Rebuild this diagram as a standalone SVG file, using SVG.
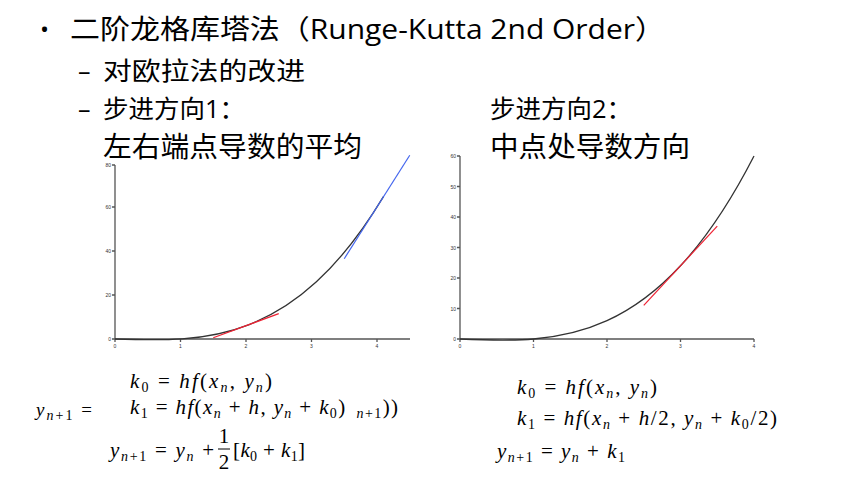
<svg xmlns="http://www.w3.org/2000/svg" width="858" height="478" viewBox="0 0 858 478">
<style>
.t{font-family:"Open Sans","Noto Sans CJK SC",sans-serif;fill:#000}
.m{font-family:"Liberation Serif",serif;font-size:21px;fill:#000}
.i{font-style:italic}
.s{font-size:14px}
.ax{stroke:#555;stroke-width:1.3;fill:none}
.tk{font-family:"Liberation Sans",sans-serif;font-size:5px;fill:#333}
.cv{stroke:#333;stroke-width:1.3;fill:none}
</style>
<rect width="858" height="478" fill="#fff"/>
<g id="title">
<text class="t" x="40" y="38" font-size="24">•</text>
<text class="t" x="70" y="39" font-size="27" textLength="595" lengthAdjust="spacingAndGlyphs">二阶龙格库塔法（Runge-Kutta 2nd Order）</text>
</g>
<g id="bullets" class="t" font-size="25">
<text x="78" y="80">–</text><text x="103" y="80" textLength="202" lengthAdjust="spacingAndGlyphs">对欧拉法的改进</text>
<text x="78" y="118">–</text><text x="103" y="118" textLength="142" lengthAdjust="spacingAndGlyphs">步进方向1：</text>
<text x="103" y="157" font-size="28" textLength="259" lengthAdjust="spacingAndGlyphs">左右端点导数的平均</text>
<text x="490" y="118" textLength="142" lengthAdjust="spacingAndGlyphs">步进方向2：</text>
<text x="490" y="157" font-size="28" textLength="200" lengthAdjust="spacingAndGlyphs">中点处导数方向</text>
</g>
<g id="plot1">
<path class="ax" d="M115,165V339H410M115,339v3M180.5,339v3M246,339v3M311.5,339v3M377,339v3M112,339h3M112,295h3M112,251h3M112,207h3M112,165h3"/>
<g class="tk" text-anchor="middle"><text x="115" y="348">0</text><text x="180.5" y="348">1</text><text x="246" y="348">2</text><text x="311.5" y="348">3</text><text x="377" y="348">4</text></g>
<g class="tk" text-anchor="end"><text x="111" y="341">0</text><text x="111" y="297">20</text><text x="111" y="253">40</text><text x="111" y="209">60</text><text x="111" y="167">80</text></g>
<path class="cv" d="M115,339C204.5,342 294,345 383.6,196.4"/>
<line x1="213.25" y1="337.8" x2="278.75" y2="313.6" stroke="#e23" stroke-width="1.2"/>
<line x1="344.25" y1="258.7" x2="409.75" y2="155.3" stroke="#46e" stroke-width="1.2"/>
</g>
<g id="plot2">
<path class="ax" d="M460,156V339H754M460,339v3M533.5,339v3M607,339v3M680.5,339v3M754,339v3M457,339h3M457,308.5h3M457,278h3M457,247.5h3M457,217h3M457,186.5h3M457,156h3"/>
<g class="tk" text-anchor="middle"><text x="460" y="348">0</text><text x="533.5" y="348">1</text><text x="607" y="348">2</text><text x="680.5" y="348">3</text><text x="754" y="348">4</text></g>
<g class="tk" text-anchor="end"><text x="456" y="341">0</text><text x="456" y="310.5">10</text><text x="456" y="280">20</text><text x="456" y="249.5">30</text><text x="456" y="219">40</text><text x="456" y="188.5">50</text><text x="456" y="158">60</text></g>
<path class="cv" d="M460,339C558,343.1 656,347.1 754,156"/>
<line x1="643.75" y1="305.4" x2="717.25" y2="226.2" stroke="#e23" stroke-width="1.2"/>
</g>
<g id="formula1" class="m">
<text x="130" y="388" textLength="142"><tspan class="i">k</tspan><tspan class="s" dy="4">0</tspan><tspan dy="-4"> = </tspan><tspan class="i">hf</tspan>(<tspan class="i">x</tspan><tspan class="s i" dy="4">n</tspan><tspan dy="-4">, </tspan><tspan class="i">y</tspan><tspan class="s i" dy="4">n</tspan><tspan dy="-4">)</tspan></text>
<text x="36" y="416" font-size="19" textLength="56"><tspan class="i">y</tspan><tspan class="s" dy="4"><tspan class="i">n</tspan>+1</tspan><tspan dy="-4"> =</tspan></text>
<text x="130" y="414" textLength="268"><tspan class="i">k</tspan><tspan class="s" dy="4">1</tspan><tspan dy="-4"> = </tspan><tspan class="i">hf</tspan>(<tspan class="i">x</tspan><tspan class="s i" dy="4">n</tspan><tspan dy="-4"> + </tspan><tspan class="i">h</tspan>, <tspan class="i">y</tspan><tspan class="s i" dy="4">n</tspan><tspan dy="-4"> + </tspan><tspan class="i">k</tspan><tspan class="s" dy="4">0</tspan><tspan dy="-4">)</tspan><tspan class="s" dx="10" dy="4"><tspan class="i">n</tspan>+1</tspan><tspan dy="-4">))</tspan></text>
<text x="110" y="457" textLength="104"><tspan class="i">y</tspan><tspan class="s" dy="4"><tspan class="i">n</tspan>+1</tspan><tspan dy="-4"> = </tspan><tspan class="i">y</tspan><tspan class="s i" dy="4">n</tspan><tspan dy="-4"> + </tspan></text>
<text x="224" y="443" text-anchor="middle">1</text>
<line x1="218" y1="449" x2="230" y2="449" stroke="#000" stroke-width="1"/>
<text x="224" y="469" text-anchor="middle">2</text>
<text x="233" y="457" textLength="72">[<tspan class="i">k</tspan><tspan class="s" dy="4">0</tspan><tspan dy="-4"> + </tspan><tspan class="i">k</tspan><tspan class="s" dy="4">1</tspan><tspan dy="-4">]</tspan></text>
</g>
<g id="formula2" class="m">
<text x="517" y="394" textLength="140"><tspan class="i">k</tspan><tspan class="s" dy="4">0</tspan><tspan dy="-4"> = </tspan><tspan class="i">hf</tspan>(<tspan class="i">x</tspan><tspan class="s i" dy="4">n</tspan><tspan dy="-4">, </tspan><tspan class="i">y</tspan><tspan class="s i" dy="4">n</tspan><tspan dy="-4">)</tspan></text>
<text x="517" y="425" textLength="260"><tspan class="i">k</tspan><tspan class="s" dy="4">1</tspan><tspan dy="-4"> = </tspan><tspan class="i">hf</tspan>(<tspan class="i">x</tspan><tspan class="s i" dy="4">n</tspan><tspan dy="-4"> + </tspan><tspan class="i">h</tspan>/2, <tspan class="i">y</tspan><tspan class="s i" dy="4">n</tspan><tspan dy="-4"> + </tspan><tspan class="i">k</tspan><tspan class="s" dy="4">0</tspan><tspan dy="-4">/2)</tspan></text>
<text x="497" y="458" textLength="128"><tspan class="i">y</tspan><tspan class="s" dy="4"><tspan class="i">n</tspan>+1</tspan><tspan dy="-4"> = </tspan><tspan class="i">y</tspan><tspan class="s i" dy="4">n</tspan><tspan dy="-4"> + </tspan><tspan class="i">k</tspan><tspan class="s" dy="4">1</tspan></text>
</g>
</svg>
